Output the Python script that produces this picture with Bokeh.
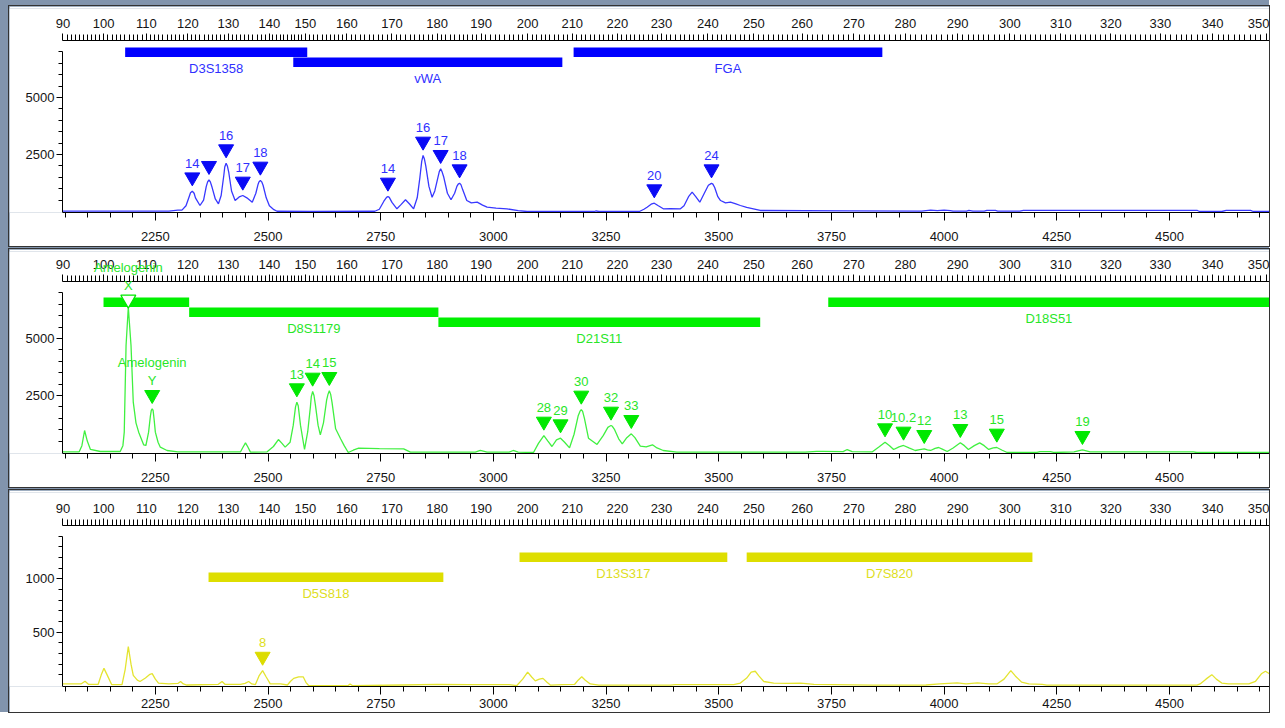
from bokeh.plotting import figure
from bokeh.models import ColumnDataSource, FixedTicker, LinearAxis, Range1d, LabelSet
from bokeh.layouts import column
from bokeh.core.properties import value
from bokeh.embed import file_html
from bokeh.resources import INLINE

FONT = "Liberation Sans"

# ---------------- axis data ----------------
size_bp = [90, 100, 110, 120, 130, 140, 150, 160, 170, 180, 190, 200, 210, 220,
           230, 240, 250, 260, 270, 280, 290, 300, 310, 320, 330, 340, 350]
size_dp = [2045, 2135, 2230, 2322, 2412, 2503, 2583, 2675, 2775, 2875, 2973, 3076,
           3175, 3275, 3373, 3476, 3578, 3685, 3800, 3914, 4030, 4146, 4259, 4370,
           4480, 4596, 4715]
dp_major = [2250, 2500, 2750, 3000, 3250, 3500, 3750, 4000, 4250, 4500, 4750]
dp_minor = list(range(2050, 4751, 50))

# ---------------- panel 1 (blue) ----------------
p1_x = [2044, 2101, 2200, 2280, 2300, 2309, 2318, 2325, 2328, 2332, 2336, 2339, 2349,
        2357, 2363, 2366, 2369, 2372, 2376, 2383, 2390, 2396, 2402, 2404, 2407, 2410,
        2413, 2419, 2427, 2436, 2444, 2453, 2465, 2473, 2478, 2480, 2483, 2486, 2489,
        2496, 2503, 2513, 2520, 2598, 2737, 2747, 2757, 2763, 2766, 2769, 2775, 2786,
        2795, 2805, 2814, 2823, 2831, 2837, 2841, 2844, 2847, 2850, 2857, 2864, 2870,
        2877, 2880, 2883, 2886, 2890, 2898, 2906, 2914, 2919, 2922, 2925, 2928, 2932,
        2941, 2951, 2964, 2976, 2986, 3006, 3030, 3055, 3075, 3224, 3228, 3234, 3324,
        3334, 3341, 3350, 3357, 3366, 3377, 3393, 3415, 3423, 3433, 3441, 3449, 3458,
        3468, 3477, 3481, 3484, 3487, 3491, 3498, 3504, 3515, 3526, 3538, 3548, 3562,
        3577, 3592, 3791, 3950, 3970, 3985, 4000, 4014, 4020, 4050, 4055, 4064, 4089,
        4095, 4114, 4119, 4168, 4176, 4562, 4567, 4616, 4626, 4680, 4686, 4722]
p1_y = [20, 20, 15, 20, 60, 60, 250, 650, 820, 890, 800, 600, 263,
        500, 1100, 1300, 1390, 1300, 1050, 550, 337, 700, 1600, 1950, 2120, 1980,
        1700, 900, 482, 640, 702, 600, 408, 800, 1200, 1300, 1360, 1300, 1150,
        600, 250, 80, 10, 5, 10, 100, 450, 620, 658, 620, 400, 118,
        300, 513, 330, 118, 600, 1500, 2200, 2456, 2300, 2000, 1100, 627, 900,
        1500, 1750, 1872, 1750, 1500, 800, 513, 800, 1100, 1200, 1241, 1180, 950,
        482, 380, 408, 280, 189, 150, 118, 40, 0, 0, 30, 0, 0,
        100, 189, 320, 365, 250, 118, 130, 118, 250, 650, 847, 650, 408,
        800, 1150, 1200, 1241, 1200, 1050, 650, 482, 380, 408, 330, 263, 180,
        118, 44, 30, 20, 60, 40, 60, 40, 20, 20, 50, 20, 20,
        50, 50, 20, 20, 45, 45, 0, 0, 45, 45, 0, 0]
p1_allele = ["14", "", "16", "17", "18", "14", "16", "17", "18", "20", "24"]
p1_allele_x = [2332, 2369, 2407, 2444, 2483, 2766, 2844, 2883, 2925, 3357, 3484]
p1_allele_h = [890, 1390, 2120, 702, 1360, 658, 2456, 1872, 1241, 365, 1241]
p1_locus = ["D3S1358", "vWA", "FGA"]
p1_locus_start = [2183, 2556, 3178]
p1_locus_end = [2587, 3153, 3863]
p1_locus_row = [0, 1, 0]

# ---------------- panel 2 (green) ----------------
p2_x = [2044, 2081, 2087, 2093, 2099, 2106, 2128, 2172, 2178, 2181, 2185, 2190, 2196,
        2201, 2207, 2213, 2224, 2229, 2235, 2239, 2241, 2243, 2245, 2247, 2250, 2256,
        2261, 2276, 2300, 2439, 2445, 2450, 2455, 2461, 2498, 2512, 2523, 2531, 2538,
        2549, 2556, 2561, 2564, 2567, 2572, 2581, 2588, 2594, 2596, 2599, 2602, 2605,
        2611, 2616, 2623, 2630, 2633, 2636, 2639, 2642, 2650, 2661, 2669, 2678, 2689,
        2701, 2747, 2801, 2816, 2960, 2971, 2986, 3035, 3044, 3055, 3089, 3100, 3112,
        3121, 3130, 3140, 3149, 3158, 3169, 3179, 3188, 3192, 3195, 3198, 3202, 3211,
        3230, 3244, 3254, 3258, 3261, 3264, 3269, 3278, 3286, 3296, 3306, 3314, 3326,
        3339, 3353, 3363, 3377, 3407, 3692, 3717, 3732, 3776, 3785, 3796, 3841, 3856,
        3869, 3879, 3888, 3900, 3910, 3922, 3936, 3946, 3956, 3963, 3970, 3980, 3988,
        3996, 4007, 4020, 4036, 4045, 4054, 4067, 4079, 4089, 4099, 4109, 4117, 4129,
        4140, 4206, 4213, 4236, 4243, 4288, 4307, 4324, 4553, 4561, 4722]
p2_y = [30, 30, 300, 965, 500, 132, 44, 44, 300, 892, 4693, 6374, 4693,
        2208, 1300, 892, 336, 307, 892, 1600, 1850, 1915, 1850, 1500, 892, 450,
        234, 88, 30, 30, 250, 424, 250, 15, 30, 263, 570, 400, 234,
        453, 1200, 2000, 2208, 2050, 1200, 132, 900, 2000, 2450, 2675, 2500, 2100,
        1200, 775, 1300, 2300, 2550, 2705, 2550, 2200, 1038, 600, 300, 0, 100,
        190, 170, 160, 15, 15, 88, 20, 20, 88, 20, 0, 400, 745,
        500, 263, 550, 628, 450, 205, 800, 1600, 1800, 1886, 1800, 1500, 628,
        351, 750, 1100, 1150, 1184, 1150, 1000, 600, 380, 650, 818, 650, 278,
        250, 336, 200, 88, 15, 15, 45, 45, 40, 130, 40, 30, 250,
        453, 300, 132, 250, 307, 200, 88, 130, 160, 120, 88, 180, 219,
        150, 44, 200, 424, 300, 132, 300, 424, 300, 132, 200, 219, 100,
        0, 0, 40, 40, 0, 30, 117, 30, 30, 0, 0]
p2_allele = ["X", "Y", "13", "14", "15", "28", "29", "30", "32", "33",
             "10", "10.2", "12", "13", "15", "19"]
p2_allele_x = [2190, 2243, 2564, 2599, 2636, 3112, 3149, 3195, 3261, 3306,
               3869, 3910, 3956, 4036, 4117, 4307]
p2_allele_h = [6374, 1915, 2208, 2675, 2705, 745, 628, 1886, 1184, 818,
               453, 307, 160, 424, 219, 117]
p2_locus = ["Amelogenin", "D8S1179", "D21S11", "D18S51"]
p2_locus_start = [2135, 2325, 2878, 3743]
p2_locus_end = [2325, 2878, 3592, 4722]
p2_locus_row = [0, 1, 2, 0]

# ---------------- panel 3 (yellow) ----------------
p3_x = [2044, 2085, 2094, 2102, 2123, 2130, 2136, 2143, 2153, 2176, 2183, 2190, 2196,
        2201, 2210, 2216, 2228, 2238, 2243, 2250, 2257, 2280, 2300, 2306, 2312, 2320,
        2389, 2398, 2405, 2439, 2449, 2457, 2464, 2472, 2480, 2488, 2496, 2505, 2528,
        2543, 2550, 2557, 2568, 2578, 2584, 2590, 2678, 2682, 2687, 2797, 2876, 2946,
        3035, 3052, 3065, 3076, 3085, 3093, 3102, 3110, 3119, 3127, 3155, 3180, 3188,
        3196, 3204, 3215, 3234, 3393, 3403, 3533, 3548, 3562, 3572, 3581, 3589, 3600,
        3622, 3652, 3682, 3711, 3841, 3960, 3990, 4010, 4029, 4049, 4074, 4099, 4117,
        4133, 4148, 4158, 4172, 4188, 4218, 4228, 4561, 4568, 4581, 4594, 4604, 4616,
        4631, 4676, 4691, 4704, 4713, 4722]
p3_y = [15, 15, 40, 10, 10, 100, 161, 100, 9, 9, 150, 365, 200,
        96, 50, 38, 70, 105, 111, 60, 23, 15, 20, 38, 15, 5,
        10, 38, 10, 10, 20, 38, 15, 9, 90, 140, 80, 15, 15,
        5, 40, 67, 82, 82, 30, 0, 0, 15, 0, 5, 10, 8,
        8, 0, 60, 126, 80, 44, 60, 67, 30, 3, 8, 10, 50,
        82, 50, 15, 3, 3, 8, 8, 23, 70, 125, 134, 90, 38,
        23, 20, 23, 10, 3, 5, 15, 20, 25, 15, 25, 15, 15,
        60, 140, 90, 32, 15, 10, 3, 3, 15, 60, 102, 60, 23,
        15, 15, 40, 110, 134, 110]
p3_allele = ["8"]
p3_allele_x = [2488]
p3_allele_h = [140]
p3_locus = ["D5S818", "D13S317", "D7S820"]
p3_locus_start = [2368, 3058, 3562]
p3_locus_end = [2889, 3519, 4196]
p3_locus_row = [1, 0, 0]

# ---------------- helpers ----------------
W = 1260
DP_PER_PX = 2.219
XA = 2044                      # data point at the left axis
X0 = XA - 53 * DP_PER_PX       # frame extends under the left tick labels
X1 = 4722

bp_minor = []
for i in range(len(size_dp) - 1):
    a, b = size_dp[i], size_dp[i + 1]
    for k in range(1, 10):
        bp_minor.append(round(a + (b - a) * k / 10.0, 2))
bp_minor += [size_dp[-1] + (size_dp[-1] - size_dp[-2]) * k / 10.0 for k in range(1, 4)]


def style_axis(ax):
    ax.axis_line_color = "black"
    ax.major_tick_line_color = "black"
    ax.minor_tick_line_color = "black"
    ax.major_tick_in = 0
    ax.minor_tick_in = 0
    ax.major_label_text_font = FONT
    ax.major_label_text_font_size = "13px"
    ax.major_label_text_color = "#141414"


def make_panel(height, margin_top, axis_px, bot_b, y0, yaxis_top, ymaj, ymin, ybound,
               tx, ty, c_trace, c_mark, c_text, c_bar,
               al_lab, al_x, al_h, loc_name, loc_start, loc_end, loc_row,
               row_px, bot_standoff, hollow=()):
    top_b = 2
    fh = height - top_b - bot_b
    upp = (yaxis_top - y0) / (fh - axis_px)
    y1 = yaxis_top + axis_px * upp
    p = figure(width=W, height=height, x_range=Range1d(X0, X1), y_range=Range1d(y0, y1),
               output_backend="svg", toolbar_location=None,
               min_border_left=0, min_border_right=0,
               min_border_top=top_b, min_border_bottom=bot_b,
               outline_line_color=None, background_fill_color="white",
               border_fill_color="white", margin=(margin_top, 0, 0, 9),
               styles={"outline": "1px solid #333333"})
    p.grid.visible = False
    p.extra_y_ranges = {"px": Range1d(start=fh, end=0)}

    # locus bars (rows placed below the size axis)
    tops = [axis_px + row_px[r] for r in loc_row]
    cx = [(a + b) / 2 for a, b in zip(loc_start, loc_end)]
    bars = ColumnDataSource(dict(l=loc_start, r=loc_end, t=tops, b=[t + 9.5 for t in tops]))
    p.quad(left="l", right="r", top="t", bottom="b", source=bars, y_range_name="px",
           fill_color=c_bar, line_color=None)
    shown = [n if n != "Amelogenin" else "" for n in loc_name]
    lbars = ColumnDataSource(dict(cx=cx, ly=[t + 21 for t in tops], name=shown))
    p.add_layout(LabelSet(x="cx", y="ly", text="name", source=lbars, y_range_name="px",
                          text_align="center", text_baseline="middle",
                          text_color=c_text, text_font=value(FONT),
                          text_font_size=value("13px")))

    # trace
    p.line(tx, ty, line_color=c_trace, line_width=1.3)

    # allele markers
    tri_y = [min(h + 14 * upp, yaxis_top - 18 * upp) for h in al_h]
    solid = [i for i, t in enumerate(al_lab) if t not in hollow]
    holl = [i for i, t in enumerate(al_lab) if t in hollow]
    p.scatter([al_x[i] for i in solid], [tri_y[i] for i in solid], marker="inverted_triangle",
              size=15, fill_color=c_mark, line_color=c_mark)
    if holl:
        p.scatter([al_x[i] for i in holl], [tri_y[i] for i in holl], marker="inverted_triangle",
                  size=15, fill_color="white", line_color=c_mark, line_width=1.2)
    lab = ColumnDataSource(dict(x=al_x, y=[t + 14 * upp for t in tri_y], t=al_lab))
    p.add_layout(LabelSet(x="x", y="y", text="t", source=lab, text_align="center",
                          text_baseline="middle", text_color=c_text, text_font=value(FONT),
                          text_font_size=value("13px")))
    amel = [i for i, t in enumerate(al_lab) if t in ("X", "Y")]
    if amel:
        asrc = ColumnDataSource(dict(x=[al_x[i] for i in amel],
                                     y=[tri_y[i] + 32 * upp for i in amel],
                                     t=["Amelogenin"] * len(amel)))
        p.add_layout(LabelSet(x="x", y="y", text="t", source=asrc, text_align="center",
                              text_baseline="middle", text_color=c_text,
                              text_font=value(FONT), text_font_size=value("13px")))

    # bottom axis: data points
    xa = p.xaxis[0]
    xa.ticker = FixedTicker(ticks=dp_major, minor_ticks=dp_minor)
    style_axis(xa)
    xa.major_tick_out = 8
    xa.minor_tick_out = 5
    xa.major_label_standoff = bot_standoff
    xa.bounds = (XA, X1)

    # left axis: RFU, drawn at the start of the data
    ya = p.yaxis[0]
    ya.ticker = FixedTicker(ticks=ymaj, minor_ticks=ymin)
    style_axis(ya)
    ya.major_tick_out = 6
    ya.minor_tick_out = 4
    ya.major_label_standoff = 2
    ya.bounds = (y0, ybound)
    ya.fixed_location = XA

    # top axis: fragment size (bp), sits just above the locus bars
    top = LinearAxis(ticker=FixedTicker(ticks=size_dp, minor_ticks=bp_minor),
                     major_label_overrides={d: str(b) for d, b in zip(size_dp, size_bp)},
                     y_range_name="px", fixed_location=axis_px, bounds=(XA, X1))
    style_axis(top)
    top.major_tick_out = 7
    top.minor_tick_out = 6
    top.major_label_standoff = 6
    p.add_layout(top, "above")
    return p


y12_major = [2500, 5000]
y12_minor = list(range(500, 7001, 500))
y3_major = [500, 1000]
y3_minor = list(range(100, 1401, 100))

p1 = make_panel(240, 6, 32, 34, -44, 7500, y12_major, y12_minor, 7000,
                p1_x, p1_y, "#3838ff", "#0a0af5", "#3030ff", "#0000ff",
                p1_allele, p1_allele_x, p1_allele_h, p1_locus, p1_locus_start,
                p1_locus_end, p1_locus_row, [7, 17], 11)
p2 = make_panel(238, 0, 30, 34, -44, 7500, y12_major, y12_minor, 7000,
                p2_x, p2_y, "#40f040", "#00e800", "#28e628", "#00f000",
                p2_allele, p2_allele_x, p2_allele_h, p2_locus, p2_locus_start,
                p2_locus_end, p2_locus_row, [16, 26, 36], 11, hollow=("X",))
p3 = make_panel(222, 0, 33, 26, -9, 1500, y3_major, y3_minor, 1400,
                p3_x, p3_y, "#e4e430", "#dcdc00", "#dede22", "#dede00",
                p3_allele, p3_allele_x, p3_allele_h, p3_locus, p3_locus_start,
                p3_locus_end, p3_locus_row, [27, 47], 4)

layout = column(p1, p2, p3, spacing=3, styles={"background-color": "#8194ad"})

open("out.html", "w").write(file_html(layout, INLINE))
